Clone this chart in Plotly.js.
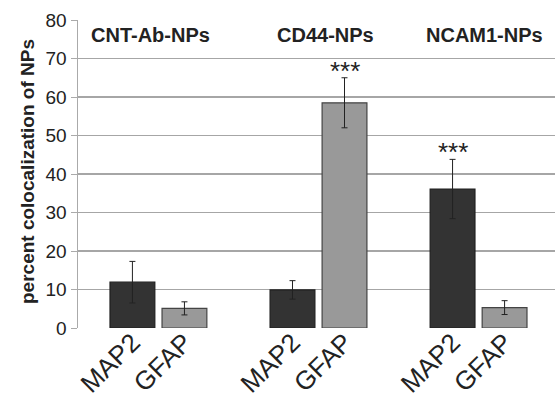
<!DOCTYPE html>
<html>
<head>
<meta charset="utf-8">
<script src="https://cdn.plot.ly/plotly-3.0.1.min.js"></script>
<style>html,body{margin:0;padding:0;background:#fff;}#chart{width:555px;height:398px;}</style>
</head>
<body>
<div id="chart"></div>
<script>
const groups = ["CNT-Ab-NPs", "CD44-NPs", "NCAM1-NPs"];
const seriesNames = ["MAP2", "GFAP"];
const map2Values = [11.9, 9.9, 36.1];
const map2Errors = [5.4, 2.4, 7.7];
const gfapValues = [5.1, 58.5, 5.3];
const gfapErrors = [1.7, 6.5, 1.8];
const signif = [["", ""], ["", "***"], ["***", ""]];
const yTicks = [0, 10, 20, 30, 40, 50, 60, 70, 80];
const yTitle = "percent colocalization of NPs";

const font = "Liberation Sans, Arial, sans-serif";
const barW = 0.28;
const offsets = [-0.3, 0.025];
const colors = ["#333333", "#999999"];
const lineColors = ["#1e1e1e", "#444444"];
const vals = [map2Values, gfapValues];
const errs = [map2Errors, gfapErrors];

const traces = seriesNames.map((name, s) => ({
  type: "bar",
  name: name,
  x: groups,
  y: vals[s],
  width: barW,
  offset: offsets[s],
  marker: {color: colors[s], line: {color: lineColors[s], width: 1.2}},
  error_y: {type: "data", array: errs[s], visible: true, color: "#222", thickness: 1, width: 3},
  showlegend: false,
  hoverinfo: "none"
}));

// tick label positions per bar (category index + bar centre offset)
const tickPos = [], tickText = [];
groups.forEach((g, i) => seriesNames.forEach((n, s) => {
  tickPos.push(i + offsets[s] + barW / 2);
  tickText.push(n);
}));
traces.push({type: "scatter", x: tickPos, y: tickPos.map(() => 0), xaxis: "x2", mode: "markers",
  marker: {opacity: 0}, showlegend: false, hoverinfo: "none"});

const annotations = [];
const groupShift = [-8, 7, 6];
groups.forEach((g, i) => {
  annotations.push({x: i, y: 76.2, xref: "x", yref: "y", text: "<b>" + g + "</b>", showarrow: false,
    xshift: groupShift[i], font: {family: font, size: 20, color: "#222"}});
  seriesNames.forEach((n, s) => {
    if (signif[i][s]) {
      const top = vals[s][i] + errs[s][i];
      annotations.push({x: i + offsets[s] + barW / 2, y: top, xref: "x2", yref: "y", text: signif[i][s],
        showarrow: false, yanchor: "middle", yshift: 7, font: {family: font, size: 26, color: "#222"}});
    }
  });
});
annotations.push({xref: "paper", yref: "paper", x: 0, y: 0.5, xshift: -51, yshift: 2, textangle: -90,
  text: "<b>" + yTitle + "</b>", showarrow: false, xanchor: "center", yanchor: "middle",
  font: {family: font, size: 19, color: "#222"}});

const layout = {
  width: 555, height: 398,
  margin: {l: 78, r: 0, t: 20, b: 70},
  paper_bgcolor: "#fff", plot_bgcolor: "#fff",
  font: {family: font, color: "#222"},
  xaxis: {type: "category", range: [-0.5, 2.48], showticklabels: false, ticks: "", showgrid: false,
    zeroline: false, showline: false, fixedrange: true},
  xaxis2: {overlaying: "x", anchor: "y", side: "bottom", range: [-0.5, 2.48], tickmode: "array",
    tickvals: tickPos, ticktext: tickText, tickangle: -45, ticks: "", showgrid: false, zeroline: false,
    showline: false, ticklabelstandoff: -7, tickfont: {family: font, size: 26, color: "#222"}},
  yaxis: {range: [0, 80], tickmode: "array", tickvals: yTicks, ticks: "outside", ticklen: 6,
    tickcolor: "#aaa", showline: true, linecolor: "#aaa", linewidth: 1.5, gridcolor: "#a6a6a6", gridwidth: 1.5,
    zeroline: false, tickfont: {family: font, size: 19, color: "#222"}},
  annotations: annotations,
  bargap: 0
};

Plotly.newPlot("chart", traces, layout, {displayModeBar: false, staticPlot: true});
</script>
</body>
</html>
